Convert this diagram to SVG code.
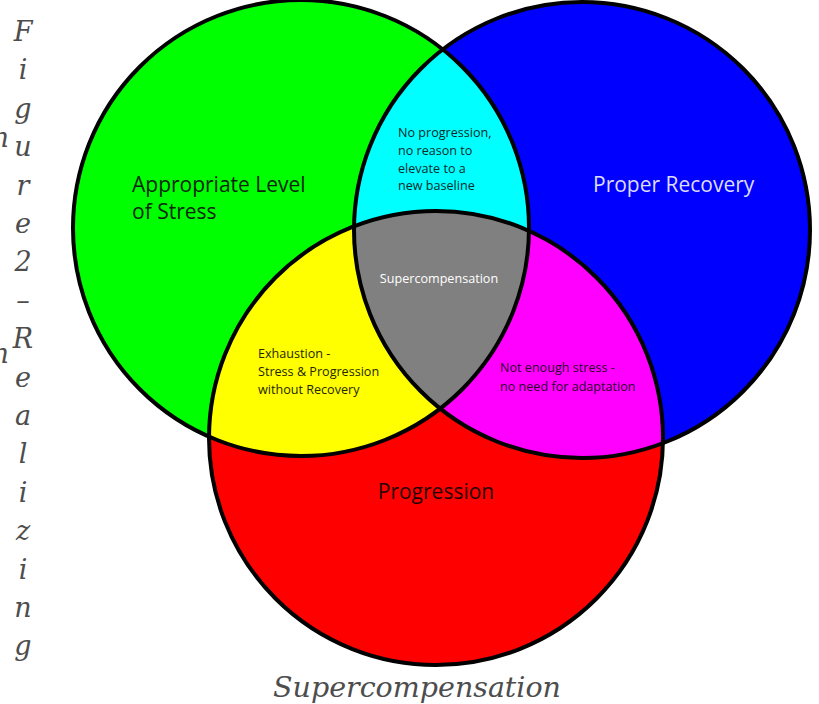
<svg xmlns="http://www.w3.org/2000/svg" width="819" height="704" viewBox="0 0 819 704">
<style>
.lbl{font-family:"Open Sans",Lato,"Liberation Sans",sans-serif;}
.big{font-size:21px;}
.small{font-size:12.6px;}
.cap{font-family:"DejaVu Serif","Liberation Serif",serif;font-style:italic;fill:#4d4d4d;}
.edge{fill:none;stroke:#000;stroke-width:4;}
</style>
<defs>
<clipPath id="cG"><circle cx="301" cy="228" r="228"/></clipPath>
<clipPath id="cB"><circle cx="582" cy="230" r="228"/></clipPath>
<clipPath id="cGB" clip-path="url(#cG)"><circle cx="582" cy="230" r="228"/></clipPath>
</defs>
<rect width="819" height="704" fill="#fff"/>
<g id="stress-circle"><circle cx="301" cy="228" r="228" fill="#00ff00"/></g>
<g id="recovery-circle"><circle cx="582" cy="230" r="228" fill="#0000ff"/></g>
<g id="progression-circle"><circle cx="436" cy="438" r="227" fill="#ff0000"/></g>
<g id="no-progression"><circle cx="582" cy="230" r="228" fill="#00ffff" clip-path="url(#cG)"/></g>
<g id="exhaustion"><circle cx="436" cy="438" r="227" fill="#ffff00" clip-path="url(#cG)"/></g>
<g id="not-enough-stress"><circle cx="436" cy="438" r="227" fill="#ff00ff" clip-path="url(#cB)"/></g>
<g id="supercompensation"><circle cx="436" cy="438" r="227" fill="#808080" clip-path="url(#cGB)"/></g>
<g id="outlines">
<circle class="edge" cx="301" cy="228" r="228"/>
<circle class="edge" cx="582" cy="230" r="228"/>
<circle class="edge" cx="436" cy="438" r="227"/>
</g>
<g id="labels" class="lbl">
<text class="big" x="132" y="192" fill="#0d260d">Appropriate Level</text>
<text class="big" x="132" y="219" fill="#0d260d">of Stress</text>
<text class="big" x="593" y="192" fill="#dcdcff">Proper Recovery</text>
<text class="big" x="436" y="499" fill="#260000" text-anchor="middle">Progression</text>
<g class="small" fill="#0b2a2a" font-size="12">
<text x="398" y="137">No progression,</text>
<text x="398" y="155">no reason to</text>
<text x="398" y="173">elevate to a</text>
<text x="398" y="190">new baseline</text>
</g>
<text class="small" x="439" y="283" fill="#ffffff" text-anchor="middle">Supercompensation</text>
<g class="small" fill="#262600">
<text x="258" y="358">Exhaustion -</text>
<text x="258" y="376">Stress &amp; Progression</text>
<text x="258" y="394">without Recovery</text>
</g>
<g class="small" fill="#2a002a">
<text x="500" y="372">Not enough stress -</text>
<text x="500" y="391">no need for adaptation</text>
</g>
</g>
<g id="caption" class="cap" font-size="27">
<text x="417" y="697" text-anchor="middle" font-size="28.5">Supercompensation</text>
<text x="9" y="147" text-anchor="end">n</text>
<text x="9" y="363" text-anchor="end">n</text>
<g text-anchor="middle">
<text x="23" y="41">F</text>
<text x="23" y="79">i</text>
<text x="23" y="118">g</text>
<text x="23" y="156">u</text>
<text x="23" y="195">r</text>
<text x="23" y="233">e</text>
<text x="23" y="271">2</text>
<text x="23" y="310">–</text>
<text x="23" y="348">R</text>
<text x="23" y="387">e</text>
<text x="23" y="425">a</text>
<text x="23" y="463">l</text>
<text x="23" y="502">i</text>
<text x="23" y="540">z</text>
<text x="23" y="579">i</text>
<text x="23" y="617">n</text>
<text x="23" y="655">g</text>
</g>
</g>
</svg>
